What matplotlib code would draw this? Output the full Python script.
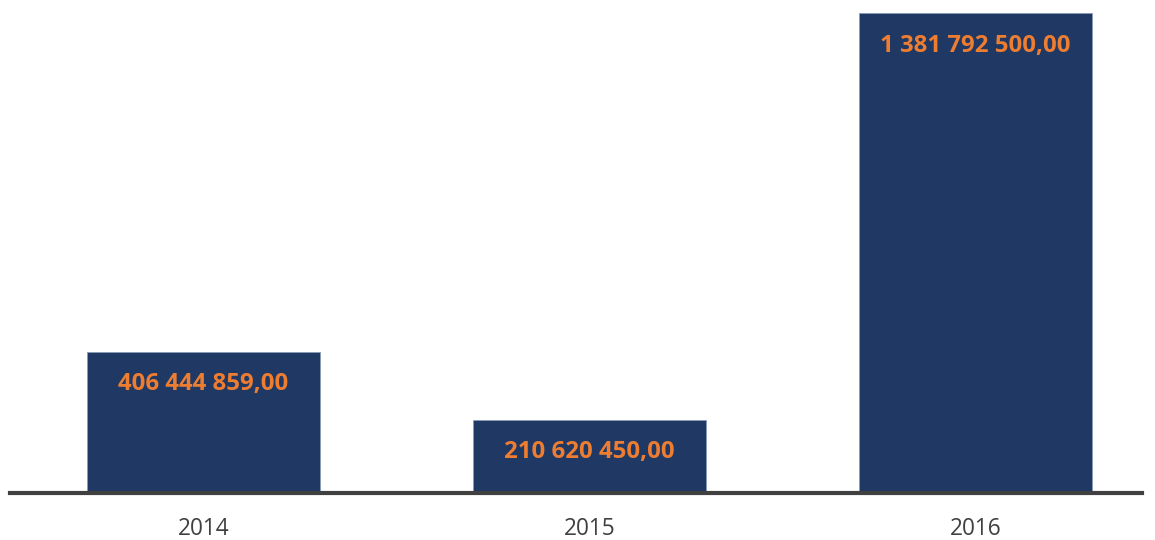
import matplotlib
matplotlib.use("Agg")
import matplotlib.pyplot as plt

years = ["2014", "2015", "2016"]
values = [406444859.00, 210620450.00, 1381792500.00]


def fmt(v):
    # 1 381 792 500,00 style
    s = f"{v:,.2f}"
    return s.replace(",", " ").replace(".", ",")


plt.rcParams['font.family'] = ['Open Sans', 'DejaVu Sans']

fig = plt.figure(figsize=(11.55, 5.4), dpi=100)
ax = fig.add_axes([10 / 1155, 47 / 540, 1132 / 1155, 493 / 540])

x = list(range(len(years)))
bars = ax.bar(x, values, width=0.604, color="#203864", edgecolor="#8a9bb8", linewidth=0.6, zorder=2)

for b, v in zip(bars, values):
    ax.annotate(fmt(v), (b.get_x() + b.get_width() / 2, b.get_height()),
                xytext=(0, -23.5), textcoords="offset points",
                ha="center", va="center", color="#ED7D31",
                fontsize=17.3, fontweight="bold", zorder=3)

ax.set_xlim(-0.501, 2.431)
ax.set_ylim(0, values[2] * 493 / 480)

ax.set_xticks(x)
ax.set_xticklabels(years, fontsize=16.3, color="#404040")
ax.tick_params(axis="x", length=0, pad=17)
ax.set_yticks([])

for side in ["top", "right", "left"]:
    ax.spines[side].set_visible(False)
ax.spines["bottom"].set_color("#404040")
ax.spines["bottom"].set_linewidth(3)
ax.spines["bottom"].set_zorder(4)

fig.savefig("out.png", dpi=100)
